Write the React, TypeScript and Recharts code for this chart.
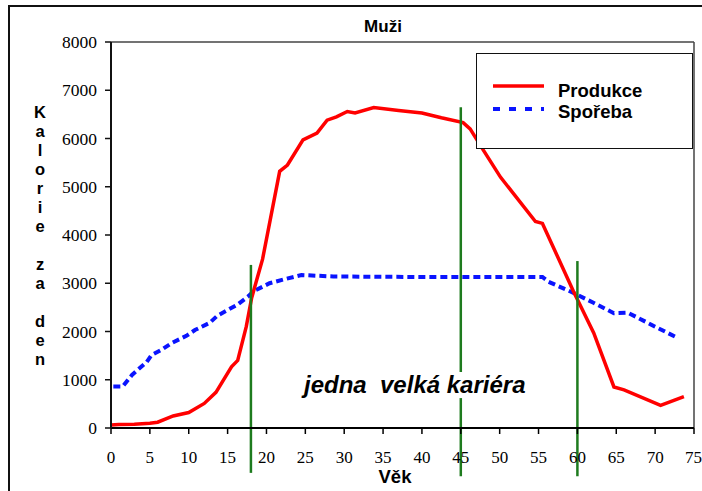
import { LineChart, Line, XAxis, YAxis, ReferenceLine } from 'recharts';

// Produkce (red) – age / kcal per day
const prodAges = [0, 1, 3, 5, 6, 8, 10, 12, 13.5, 15.5, 16.3, 17.4, 18.1, 19.5, 21.7, 22.7, 24.7, 26.5, 27.8, 29, 30.4, 31.4, 33.8, 37, 40, 42.5, 45.3, 46.2, 47.9, 50.1, 54.6, 55.5, 59.5, 62.1, 64.7, 66, 70.7, 73.7];
const prodValues = [60, 70, 80, 100, 120, 250, 320, 510, 740, 1270, 1400, 2100, 2700, 3500, 5320, 5450, 5970, 6110, 6380, 6450, 6560, 6530, 6640, 6580, 6530, 6430, 6330, 6200, 5760, 5200, 4280, 4240, 2830, 1970, 850, 790, 470, 650];

// Spořeba (blue dashed)
const spotAges = [0.3, 1.5, 2.7, 4.6, 5.2, 6.5, 7.8, 9.7, 10.8, 12.7, 13.7, 16.2, 17.6, 18.3, 20.4, 22.5, 24.5, 28.6, 40, 55.5, 56.3, 59.5, 62, 64.7, 66.5, 70, 73];
const spotValues = [860, 860, 1100, 1370, 1510, 1620, 1760, 1910, 2030, 2180, 2330, 2550, 2720, 2830, 3000, 3090, 3170, 3140, 3130, 3130, 3030, 2800, 2600, 2380, 2390, 2100, 1860];

const xTicks = [0, 5, 10, 15, 20, 25, 30, 35, 40, 45, 50, 55, 60, 65, 70, 75];
const yTicks = [0, 1000, 2000, 3000, 4000, 5000, 6000, 7000, 8000];

// green career markers (age, top, bottom in kcal units)
const markerAges = [18, 45, 60];
const markerTops = [3380, 6650, 3460];
const markerBottoms = [-930, -1000, -1000];
const gapAge = 45;
const gapRange = [620, 1160];

const yLabel = ['K', 'a', 'l', 'o', 'r', 'i', 'e', '', 'z', 'a', '', 'd', 'e', 'n'];

const prodData = prodAges.map((age, i) => ({ age, value: prodValues[i] }));
const spotData = spotAges.map((age, i) => ({ age, value: spotValues[i] }));

const GREEN = '#1e7b1e';
const sans = 'Arial, "Liberation Sans", sans-serif';
const serif = '"Liberation Serif", "DejaVu Serif", serif';

const css = `.recharts-cartesian-axis-tick-value { font-family: "Liberation Serif", "DejaVu Serif", serif !important; }`;

function markerSegments() {
  const segs: { x: number; y1: number; y2: number }[] = [];
  markerAges.forEach((age, i) => {
    if (age === gapAge) {
      segs.push({ x: age, y1: markerTops[i], y2: gapRange[1] });
      segs.push({ x: age, y1: gapRange[0], y2: markerBottoms[i] });
    } else {
      segs.push({ x: age, y1: markerTops[i], y2: markerBottoms[i] });
    }
  });
  return segs;
}

export default function App() {
  return (
    <div
      style={{
        position: 'absolute',
        left: 0,
        top: 0,
        width: 702,
        height: 491,
        background: '#fff',
        overflow: 'hidden',
        fontFamily: sans,
      }}
    >
      <style>{css}</style>
      <div
        style={{
          position: 'absolute',
          left: 8,
          top: 5,
          width: 700,
          height: 500,
          borderTop: '2px solid #111',
          borderLeft: '2px solid #111',
        }}
      />
      <div style={{ position: 'absolute', left: 0, top: 0 }}>
        <LineChart width={702} height={491} margin={{ top: 42, right: 8, bottom: 0, left: 0 }}>
          <XAxis
            dataKey="age"
            type="number"
            domain={[0, 75]}
            ticks={xTicks}
            allowDataOverflow
            height={63}
            tickSize={6}
            tickMargin={17}
            tick={{ fill: '#000', fontSize: 17, fontFamily: serif }}
            axisLine={{ stroke: '#000', strokeWidth: 2 }}
            tickLine={{ stroke: '#000', strokeWidth: 1.5 }}
          />
          <YAxis
            type="number"
            domain={[0, 8000]}
            ticks={yTicks}
            allowDataOverflow
            width={111}
            tickSize={6}
            tickMargin={8}
            tick={{ fill: '#000', fontSize: 17.5, fontFamily: serif }}
            axisLine={{ stroke: '#111', strokeWidth: 2 }}
            tickLine={{ stroke: '#111', strokeWidth: 1.5 }}
          />
          <ReferenceLine y={8000} stroke="#444" strokeWidth={1.5} />
          <ReferenceLine x={75} stroke="#444" strokeWidth={1.5} />
          <Line
            data={spotData}
            dataKey="value"
            type="linear"
            stroke="#0a14ff"
            strokeWidth={4}
            strokeDasharray="7 4"
            dot={false}
            isAnimationActive={false}
          />
          <Line
            data={prodData}
            dataKey="value"
            type="linear"
            stroke="#ff0000"
            strokeWidth={3.5}
            dot={false}
            isAnimationActive={false}
          />
          {markerSegments().map((s, i) => (
            <ReferenceLine
              key={i}
              segment={[
                { x: s.x, y: s.y1 },
                { x: s.x, y: s.y2 },
              ]}
              stroke={GREEN}
              strokeWidth={2.5}
              ifOverflow="visible"
            />
          ))}
        </LineChart>
      </div>

      {/* title */}
      <div
        style={{
          position: 'absolute',
          left: 333,
          top: 18,
          width: 100,
          textAlign: 'center',
          fontWeight: 'bold',
          fontSize: 17,
          lineHeight: '17px',
        }}
      >
        Muži
      </div>

      {/* stacked y label */}
      <div style={{ position: 'absolute', left: 30, top: 103, width: 20, textAlign: 'center', fontWeight: 'bold', fontSize: 16.5 }}>
        {yLabel.map((ch, i) => (
          <div key={i} style={{ height: 19, lineHeight: '19px' }}>
            {ch}
          </div>
        ))}
      </div>

      {/* x label */}
      <div
        style={{
          position: 'absolute',
          left: 345,
          top: 467,
          width: 100,
          textAlign: 'center',
          fontWeight: 'bold',
          fontSize: 18.5,
          lineHeight: '20px',
        }}
      >
        Věk
      </div>

      {/* annotation */}
      <div
        style={{
          position: 'absolute',
          left: 304,
          top: 373,
          whiteSpace: 'pre',
          fontWeight: 'bold',
          fontStyle: 'italic',
          fontSize: 24,
          lineHeight: '24px',
        }}
      >
        {'jedna  velká kariéra'}
      </div>

      {/* legend */}
      <div
        style={{
          position: 'absolute',
          left: 476,
          top: 53,
          width: 215,
          height: 94,
          border: '1.5px solid #111',
          background: '#fff',
        }}
      />
      <svg style={{ position: 'absolute', left: 0, top: 0 }} width={702} height={491} pointerEvents="none">
        <line x1={493} y1={86} x2={544} y2={86} stroke="#ff0000" strokeWidth={3.5} />
        <line x1={493} y1={109} x2={544} y2={109} stroke="#0a14ff" strokeWidth={4} strokeDasharray="7 9" />
      </svg>
      <div style={{ position: 'absolute', left: 558, top: 81, fontWeight: 'bold', fontSize: 18.5, lineHeight: '20px' }}>
        Produkce
      </div>
      <div style={{ position: 'absolute', left: 558, top: 102, fontWeight: 'bold', fontSize: 18.5, lineHeight: '20px' }}>
        Spořeba
      </div>
    </div>
  );
}
